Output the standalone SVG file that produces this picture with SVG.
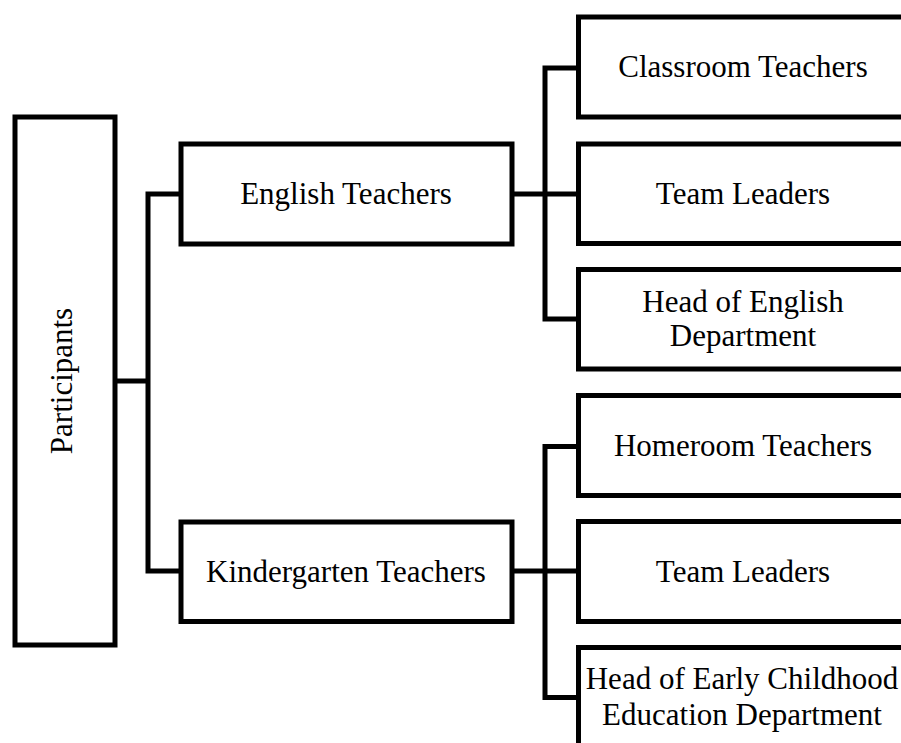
<svg xmlns="http://www.w3.org/2000/svg" width="901" height="743" viewBox="0 0 901 743">
  <style>
    .box { fill: #ffffff; stroke: #000000; stroke-width: 5; }
    .link { fill: none; stroke: #000000; stroke-width: 5; stroke-linejoin: miter; }
    .lbl { font-family: "Liberation Serif", "Times New Roman", serif; font-size: 31px; fill: #000000; text-anchor: middle; }
  </style>
  <rect width="901" height="743" fill="#ffffff"/>

  <!-- connectors -->
  <g id="connectors">
    <path class="link" d="M115 381 H148"/>
    <path class="link" d="M181 194 H148 V571 H181"/>
    <path class="link" d="M512 194 H578"/>
    <path class="link" d="M578 68 H545 V319 H578"/>
    <path class="link" d="M512 571 H578"/>
    <path class="link" d="M578 446.5 H545 V697.5 H578"/>
  </g>

  <!-- root -->
  <g id="participants">
    <rect class="box" x="15" y="117" width="100" height="528"/>
    <text class="lbl" transform="translate(71.5 381) rotate(-90)">Participants</text>
  </g>

  <!-- second level -->
  <g id="english-teachers">
    <rect class="box" x="181" y="144" width="331" height="100"/>
    <text class="lbl" x="346" y="204">English Teachers</text>
  </g>
  <g id="kindergarten-teachers">
    <rect class="box" x="181" y="522" width="331" height="99.5"/>
    <text class="lbl" x="346" y="581.5">Kindergarten Teachers</text>
  </g>

  <!-- third level: English -->
  <g id="classroom-teachers">
    <rect class="box" x="578.5" y="17" width="340" height="100"/>
    <text class="lbl" x="743" y="77">Classroom Teachers</text>
  </g>
  <g id="team-leaders-english">
    <rect class="box" x="578.5" y="144" width="340" height="99.5"/>
    <text class="lbl" x="743" y="204">Team Leaders</text>
  </g>
  <g id="head-english">
    <rect class="box" x="578.5" y="269.5" width="340" height="99.5"/>
    <text class="lbl" x="743" y="312">Head of English</text>
    <text class="lbl" x="743" y="346">Department</text>
  </g>

  <!-- third level: Kindergarten -->
  <g id="homeroom-teachers">
    <rect class="box" x="578.5" y="395.5" width="340" height="100"/>
    <text class="lbl" x="743" y="455.5">Homeroom Teachers</text>
  </g>
  <g id="team-leaders-kindergarten">
    <rect class="box" x="578.5" y="521.5" width="340" height="100"/>
    <text class="lbl" x="743" y="581.5">Team Leaders</text>
  </g>
  <g id="head-early-childhood">
    <rect class="box" x="578.5" y="647.5" width="340" height="100"/>
    <text class="lbl" x="742" y="689">Head of Early Childhood</text>
    <text class="lbl" x="742" y="725">Education Department</text>
  </g>
</svg>
